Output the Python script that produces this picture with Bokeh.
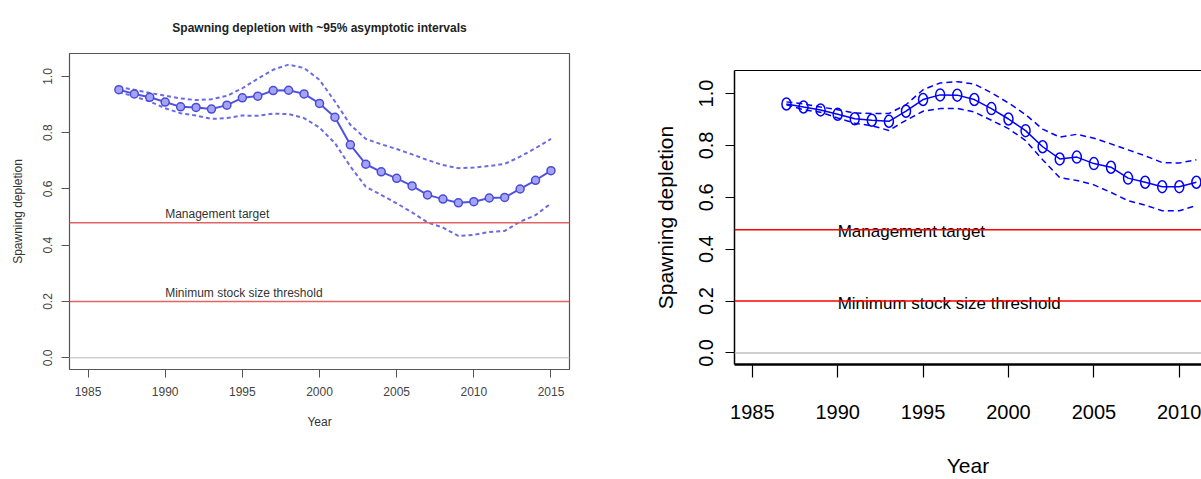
from bokeh.plotting import figure
from bokeh.models import Span, Range1d, FixedTicker, LinearAxis, CustomJSTickFormatter
from bokeh.layouts import row
from bokeh.core.properties import value
from bokeh.embed import file_html
from bokeh.resources import INLINE

# --- left panel data (stock synthesis style plot)
years_l = list(range(1987, 2016))
dep_l = [0.953, 0.938, 0.926, 0.909, 0.892, 0.890, 0.884, 0.898, 0.924, 0.930,
         0.950, 0.951, 0.938, 0.904, 0.855, 0.757, 0.688, 0.661, 0.638, 0.611,
         0.579, 0.564, 0.551, 0.555, 0.568, 0.570, 0.600, 0.631, 0.665]
upper_l = [0.962, 0.953, 0.941, 0.932, 0.922, 0.916, 0.919, 0.931, 0.958, 0.992,
           1.024, 1.042, 1.030, 0.988, 0.911, 0.828, 0.778, 0.759, 0.742, 0.723,
           0.703, 0.685, 0.674, 0.676, 0.682, 0.689, 0.715, 0.745, 0.778]
lower_l = [0.944, 0.929, 0.911, 0.887, 0.869, 0.861, 0.849, 0.852, 0.861, 0.860,
           0.868, 0.866, 0.852, 0.818, 0.763, 0.680, 0.608, 0.579, 0.549, 0.517,
           0.481, 0.463, 0.433, 0.437, 0.447, 0.451, 0.484, 0.507, 0.549]
target_l = 0.48
msst_l = 0.2

# --- right panel data
years_r = list(range(1987, 2012))
dep_r = [0.960, 0.948, 0.937, 0.920, 0.903, 0.897, 0.893, 0.932, 0.977, 0.995,
         0.994, 0.977, 0.942, 0.902, 0.857, 0.795, 0.748, 0.755, 0.730, 0.716,
         0.674, 0.658, 0.641, 0.641, 0.658]
upper_r = [0.968, 0.960, 0.948, 0.938, 0.925, 0.923, 0.923, 0.957, 1.015, 1.041,
           1.046, 1.037, 1.003, 0.964, 0.919, 0.863, 0.832, 0.843, 0.828, 0.806,
           0.783, 0.760, 0.734, 0.732, 0.745]
lower_r = [0.957, 0.938, 0.928, 0.906, 0.886, 0.876, 0.858, 0.897, 0.932, 0.942,
           0.943, 0.929, 0.897, 0.865, 0.819, 0.745, 0.676, 0.665, 0.648, 0.619,
           0.587, 0.570, 0.548, 0.548, 0.568]
target_r = 0.475
msst_r = 0.2

x_ticks = [1985, 1990, 1995, 2000, 2005, 2010, 2015]
y_ticks = [0.0, 0.2, 0.4, 0.6, 0.8, 1.0]
ref_labels = ["Management target", "Minimum stock size threshold"]

fmt = CustomJSTickFormatter(code="return tick.toFixed(1);")
FONT = "Liberation Sans"

# ---------------- left figure
p1 = figure(width=620, height=479, output_backend="svg", toolbar_location=None,
            x_range=Range1d(1983.8, 2016.2), y_range=Range1d(-0.0416, 1.0816),
            min_border_left=69, min_border_right=51, min_border_top=52, min_border_bottom=110,
            title="Spawning depletion with ~95% asymptotic intervals")
p1.frame_align = False
p1.title.align = "center"
p1.title.text_font = FONT
p1.title.text_font_size = "12px"
p1.title.text_font_style = "bold"
p1.title.text_color = "#222222"
p1.title.standoff = 37
p1.grid.visible = False
p1.outline_line_color = "#555555"
p1.outline_line_width = 1.2

for ax in (p1.xaxis[0], p1.yaxis[0]):
    ax.axis_line_color = None
    ax.major_tick_line_color = "#555555"
    ax.major_tick_out = 8
    ax.major_tick_in = 0
    ax.minor_tick_line_color = None
    ax.major_label_text_font = FONT
    ax.major_label_text_font_size = "12px"
    ax.major_label_text_color = "#444444"
    ax.axis_label_text_font = FONT
    ax.axis_label_text_font_size = "12px"
    ax.axis_label_text_font_style = "normal"
    ax.axis_label_text_color = "#333333"
p1.xaxis.ticker = FixedTicker(ticks=x_ticks)
p1.yaxis.ticker = FixedTicker(ticks=y_ticks)
p1.yaxis.formatter = fmt
p1.yaxis.major_label_orientation = "vertical"
p1.xaxis.major_label_standoff = 9
p1.yaxis.major_label_standoff = 9
p1.xaxis.axis_label = "Year"
p1.yaxis.axis_label = "Spawning depletion"
p1.xaxis.axis_label_standoff = 16
p1.yaxis.axis_label_standoff = 16

p1.add_layout(Span(location=0, dimension="width", line_color="#d0d0d0", line_width=1.5))
p1.add_layout(Span(location=target_l, dimension="width", line_color="#e06464", line_width=1.5))
p1.add_layout(Span(location=msst_l, dimension="width", line_color="#e06464", line_width=1.5))

p1.line(years_l, upper_l, line_color="#6b6be6", line_width=2, line_dash="4 3")
p1.line(years_l, lower_l, line_color="#6b6be6", line_width=2, line_dash="4 3")
p1.line(years_l, dep_l, line_color="#5252e0", line_width=2)
p1.scatter(years_l, dep_l, size=8, fill_color="#a4a4f4", line_color="#4a4ad8", line_width=1.5)

p1.text([1990, 1990], [target_l, msst_l], text=ref_labels, text_font=value(FONT),
        text_font_size="12px", text_color="#333333", text_baseline="bottom",
        text_align="left", y_offset=-2)

# ---------------- right figure
p2 = figure(width=581, height=479, output_backend="svg", toolbar_location=None,
            x_range=Range1d(1983.96, 2011.3), y_range=Range1d(-0.0447, 1.089),
            min_border_left=114, min_border_right=0, min_border_top=70, min_border_bottom=112)
p2.frame_align = False
p2.grid.visible = False
p2.outline_line_color = None

for ax in (p2.xaxis[0], p2.yaxis[0]):
    ax.axis_line_color = "black"
    ax.major_tick_line_color = "black"
    ax.major_tick_line_width = 1.2
    ax.major_tick_in = 0
    ax.minor_tick_line_color = None
    ax.major_label_text_font = FONT
    ax.major_label_text_font_size = "20px"
    ax.major_label_text_color = "black"
    ax.axis_label_text_font = FONT
    ax.axis_label_text_font_size = "21px"
    ax.axis_label_text_font_style = "normal"
    ax.axis_label_text_color = "black"
p2.xaxis.axis_line_width = 2.5
p2.yaxis.axis_line_width = 1.5
p2.xaxis.major_tick_out = 13
p2.yaxis.major_tick_out = 9
p2.xaxis.ticker = FixedTicker(ticks=x_ticks)
p2.yaxis.ticker = FixedTicker(ticks=y_ticks)
p2.yaxis.formatter = fmt
p2.yaxis.major_label_orientation = "vertical"
p2.xaxis.major_label_standoff = 27
p2.yaxis.major_label_standoff = 12
p2.xaxis.axis_label = "Year"
p2.yaxis.axis_label = "Spawning depletion"
p2.xaxis.axis_label_standoff = 32
p2.yaxis.axis_label_standoff = 20

top_axis = LinearAxis(ticker=FixedTicker(ticks=[]), axis_line_color="black",
                      axis_line_width=1.2, major_label_text_font_size="0px",
                      major_tick_line_color=None, minor_tick_line_color=None)
p2.add_layout(top_axis, "above")

p2.add_layout(Span(location=0, dimension="width", line_color="#c0c0c0", line_width=1.5))
p2.add_layout(Span(location=target_r, dimension="width", line_color="#ff0000", line_width=1.5))
p2.add_layout(Span(location=msst_r, dimension="width", line_color="#ff0000", line_width=1.5))

p2.line(years_r, upper_r, line_color="#0000ff", line_width=1.5, line_dash="6 4")
p2.line(years_r, lower_r, line_color="#0000ff", line_width=1.5, line_dash="6 4")
p2.line(years_r, dep_r, line_color="#0000ff", line_width=1.5)
p2.ellipse(years_r, dep_r, width=9, height=12, width_units="screen", height_units="screen",
           fill_color=None, line_color="#0000ff", line_width=1.5)

p2.text([1990, 1990], [target_r, msst_r], text=ref_labels, text_font=value(FONT),
        text_font_size="17px", text_color="black", text_baseline="alphabetic",
        text_align="left", y_offset=2)

layout = row(p1, p2)
open("out.html", "w").write(file_html(layout, INLINE))
